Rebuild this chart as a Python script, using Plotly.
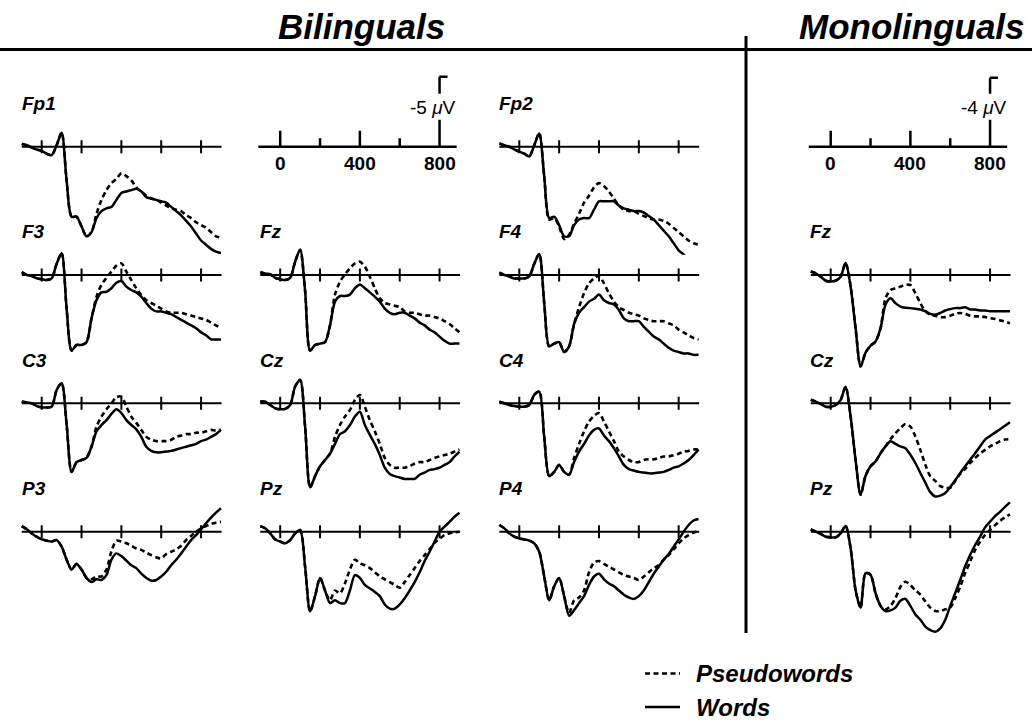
import plotly.graph_objects as go

W, H = 1032, 720
FONT = "Liberation Sans"
INK = "black"

# Sample times (ms) shared by all waveforms
times = list(range(-100, 901, 25))

# ---- Bilinguals: grand-average ERPs in microvolts (negative plotted up) ----
fp1_words = [-0.2, -0.1, 0.05, 0.2, 0.3, 0.5, 0.6, -0.1, -1.0, 2.4,
             5.0, 5.0, 5.7, 6.4, 6.1, 5.1, 4.6, 4.4, 4.3, 3.8,
             3.3, 3.2, 3.1, 3.0, 3.2, 3.6, 3.7, 3.8, 3.9, 4.0,
             4.3, 4.6, 4.9, 5.3, 5.7, 6.2, 6.7, 7.0, 7.3, 7.5, 7.6]
fp1_pseudo = [-0.2, -0.1, 0.05, 0.2, 0.3, 0.5, 0.6, -0.1, -1.0, 2.4,
              5.0, 5.0, 5.7, 6.4, 6.1, 4.8, 3.8, 3.1, 2.6, 2.3,
              1.9, 2.1, 2.4, 2.9, 3.2, 3.5, 3.7, 3.8, 4.0, 4.2,
              4.4, 4.5, 4.6, 4.9, 5.1, 5.4, 5.6, 5.8, 6.1, 6.4, 6.5]

fp2_words = [-0.24, -0.1, 0.0, 0.2, 0.35, 0.5, 0.7, -0.1, -0.95, 2.1,
             5.1, 5.0, 5.6, 6.4, 6.4, 5.6, 5.2, 5.1, 5.1, 4.5,
             3.9, 3.9, 3.9, 3.9, 4.2, 4.4, 4.5, 4.6, 4.6, 4.7,
             4.95, 5.2, 5.6, 6.0, 6.4, 6.9, 7.4, 7.7, 8.0, 8.1, 8.2]
fp2_pseudo = [-0.24, -0.1, 0.0, 0.2, 0.35, 0.5, 0.7, -0.1, -0.95, 2.1,
              5.2, 5.1, 5.7, 6.6, 6.3, 5.5, 4.8, 4.0, 3.5, 2.9,
              2.6, 2.8, 3.2, 3.7, 4.2, 4.5, 4.6, 4.6, 4.8, 4.95,
              5.1, 5.2, 5.2, 5.3, 5.5, 5.8, 6.1, 6.4, 6.7, 6.9, 7.0]

f3_words = [-0.2, 0.0, 0.07, 0.24, 0.3, 0.36, 0.24, -0.8, -1.55, 2.4,
            5.4, 5.0, 5.0, 4.8, 3.1, 1.8, 1.24, 1.2, 0.95, 0.55,
            0.43, 0.83, 1.07, 1.24, 1.55, 2.0, 2.4, 2.6, 2.6, 2.7,
            2.8, 3.0, 3.2, 3.4, 3.6, 3.8, 4.1, 4.3, 4.6, 4.6, 4.6]
f3_pseudo = [-0.2, 0.0, 0.07, 0.24, 0.3, 0.36, 0.24, -0.8, -1.55, 2.4,
             5.4, 5.0, 5.0, 4.8, 3.1, 1.55, 0.7, 0.2, -0.24, -0.67,
             -0.83, -0.24, 0.36, 0.95, 1.43, 1.8, 2.0, 2.2, 2.4, 2.6,
             2.7, 2.7, 2.7, 2.8, 2.9, 3.0, 3.1, 3.2, 3.4, 3.6, 3.8]

fz_words = [-0.2, -0.1, -0.05, 0.2, 0.3, 0.36, 0.2, -0.95, -1.8, 1.14,
            5.4, 5.0, 4.9, 4.8, 3.6, 1.9, 1.5, 1.5, 1.4, 0.95,
            0.67, 0.95, 1.24, 1.55, 1.9, 2.4, 2.7, 2.8, 2.7, 2.7,
            2.9, 3.1, 3.4, 3.6, 3.9, 4.1, 4.4, 4.7, 4.9, 4.9, 4.9]
fz_pseudo = [-0.2, -0.1, -0.05, 0.2, 0.3, 0.36, 0.2, -0.95, -1.8, 1.14,
             5.4, 5.0, 4.9, 4.8, 3.6, 1.4, 0.48, -0.05, -0.48, -0.83,
             -0.95, -0.6, 0.12, 0.95, 1.67, 2.0, 2.1, 2.2, 2.3, 2.6,
             2.7, 2.7, 2.8, 2.9, 2.9, 3.0, 3.1, 3.3, 3.5, 3.8, 4.1]

f4_words = [-0.17, 0.0, 0.1, 0.25, 0.25, 0.25, 0.1, -0.8, -1.5, 2.0,
            5.1, 4.9, 4.8, 5.5, 5.1, 3.5, 2.7, 2.3, 1.9, 1.7,
            1.4, 1.8, 2.0, 2.1, 2.5, 3.1, 3.3, 3.3, 3.3, 3.7,
            4.05, 4.4, 4.6, 4.9, 5.2, 5.4, 5.5, 5.6, 5.6, 5.7, 5.7]
f4_pseudo = [-0.17, 0.0, 0.1, 0.25, 0.25, 0.25, 0.1, -0.8, -1.5, 2.0,
             5.1, 4.9, 4.8, 5.5, 5.1, 3.5, 2.3, 1.3, 0.6, 0.24,
             0.05, 0.6, 1.3, 1.9, 2.3, 2.5, 2.7, 2.8, 2.9, 3.1,
             3.2, 3.3, 3.3, 3.3, 3.45, 3.6, 3.9, 4.1, 4.3, 4.5, 4.6]

c3_words = [-0.12, -0.05, 0.0, 0.2, 0.29, 0.3, 0.24, -0.95, -1.43, 1.5,
            4.9, 4.2, 4.05, 3.9, 3.1, 2.0, 1.55, 1.2, 0.76, 0.43,
            0.7, 1.2, 1.55, 1.86, 2.4, 3.1, 3.4, 3.5, 3.5, 3.45,
            3.4, 3.3, 3.2, 3.1, 3.0, 2.9, 2.7, 2.6, 2.4, 2.2, 1.9]
c3_pseudo = [-0.12, -0.05, 0.0, 0.2, 0.29, 0.3, 0.24, -0.95, -1.43, 1.5,
             4.9, 4.2, 4.05, 3.9, 3.1, 1.67, 0.95, 0.43, 0.0, -0.43,
             -0.48, 0.24, 0.95, 1.4, 1.9, 2.4, 2.6, 2.7, 2.7, 2.7,
             2.6, 2.4, 2.3, 2.2, 2.2, 2.1, 2.1, 2.0, 1.9, 1.95, 1.9]

cz_words = [-0.12, -0.12, 0.12, 0.36, 0.43, 0.4, 0.12, -1.2, -1.67, 1.67,
            6.0, 5.2, 4.5, 4.05, 3.6, 2.9, 2.2, 2.0, 1.55, 0.95,
            0.6, 1.55, 2.26, 2.9, 3.7, 4.6, 5.05, 5.2, 5.3, 5.4,
            5.4, 5.4, 5.1, 4.95, 4.76, 4.7, 4.6, 4.4, 4.2, 3.8, 3.45]
cz_pseudo = [-0.12, -0.12, 0.12, 0.36, 0.43, 0.4, 0.12, -1.2, -1.67, 1.67,
             6.0, 5.2, 4.5, 4.05, 3.6, 2.4, 1.55, 0.95, 0.48, -0.24,
             -0.6, 0.24, 1.2, 2.0, 2.9, 3.9, 4.4, 4.6, 4.6, 4.6,
             4.5, 4.3, 4.2, 4.2, 4.05, 3.9, 3.8, 3.7, 3.6, 3.45, 3.3]

c4_words = [-0.12, 0.0, 0.12, 0.2, 0.24, 0.24, 0.12, -0.6, -0.83, 2.4,
            5.2, 4.9, 4.4, 4.9, 5.1, 4.2, 3.45, 2.9, 2.3, 1.9,
            1.8, 2.3, 2.7, 3.2, 3.8, 4.4, 4.7, 4.8, 4.9, 4.95,
            5.0, 5.0, 4.95, 4.9, 4.76, 4.6, 4.5, 4.3, 4.05, 3.7, 3.3]
c4_pseudo = [-0.12, 0.0, 0.12, 0.2, 0.24, 0.24, 0.12, -0.6, -0.83, 2.4,
             5.2, 4.9, 4.4, 4.9, 5.1, 3.9, 2.9, 2.0, 1.3, 0.9,
             0.7, 1.3, 2.0, 2.7, 3.45, 3.8, 4.05, 4.2, 4.2, 4.05,
             4.0, 4.0, 3.9, 3.8, 3.8, 3.7, 3.6, 3.45, 3.4, 3.3, 3.3]

p3_words = [-0.4, -0.17, 0.12, 0.36, 0.55, 0.64, 0.7, 0.6, 1.07, 2.0,
            2.7, 2.3, 2.7, 3.3, 3.6, 3.4, 3.45, 3.1, 2.0, 1.55,
            1.74, 2.07, 2.4, 2.6, 3.0, 3.3, 3.5, 3.45, 3.2, 2.86,
            2.4, 2.0, 1.55, 1.07, 0.6, 0.24, -0.17, -0.6, -1.0, -1.36, -1.67]
p3_pseudo = [-0.4, -0.17, 0.12, 0.36, 0.55, 0.64, 0.7, 0.6, 1.07, 2.0,
             2.7, 2.3, 2.7, 3.3, 3.4, 3.2, 3.2, 2.7, 1.4, 0.64,
             0.7, 0.83, 1.0, 1.2, 1.3, 1.5, 1.67, 1.83, 1.9, 1.6,
             1.43, 1.26, 1.0, 0.6, 0.3, 0.0, -0.24, -0.4, -0.55, -0.64, -0.7]

pz_words = [-0.4, -0.24, 0.12, 0.55, 0.7, 0.83, 0.6, 0.12, -0.12, 2.5,
            5.7, 4.6, 3.3, 4.2, 5.1, 4.9, 5.1, 5.1, 4.2, 3.1,
            3.3, 3.8, 4.05, 4.3, 4.6, 5.2, 5.5, 5.5, 5.2, 4.76,
            4.2, 3.6, 2.9, 2.1, 1.43, 0.7, 0.0, -0.36, -0.7, -1.07, -1.36]
pz_pseudo = [-0.4, -0.24, 0.12, 0.55, 0.7, 0.83, 0.6, 0.12, -0.12, 2.5,
             5.7, 4.6, 3.3, 4.2, 4.9, 4.2, 4.4, 3.7, 2.7, 2.0,
             2.26, 2.4, 2.6, 2.9, 3.2, 3.4, 3.6, 3.8, 4.0, 3.6,
             3.1, 2.6, 2.1, 1.67, 1.26, 0.8, 0.5, 0.24, 0.12, 0.05, 0.0]

p4_words = [-0.48, -0.24, 0.12, 0.36, 0.48, 0.55, 0.64, 0.83, 1.43, 3.2,
            4.9, 3.9, 3.3, 4.6, 6.0, 5.6, 5.1, 4.6, 3.8, 3.2,
            3.0, 3.4, 3.7, 3.9, 4.2, 4.5, 4.7, 4.8, 4.6, 4.2,
            3.6, 3.0, 2.5, 2.0, 1.6, 1.07, 0.55, 0.0, -0.48, -0.8, -0.9]
p4_pseudo = [-0.48, -0.24, 0.12, 0.36, 0.48, 0.55, 0.64, 0.83, 1.43, 3.2,
             4.9, 3.9, 3.3, 4.6, 5.8, 4.9, 4.7, 4.2, 2.9, 2.2,
             2.1, 2.3, 2.5, 2.7, 2.9, 3.1, 3.2, 3.3, 3.45, 3.2,
             2.9, 2.6, 2.4, 2.0, 1.67, 1.26, 0.83, 0.48, 0.24, 0.07, -0.07]

# ---- Monolinguals ----
mfz_words = [-0.2, -0.1, 0.1, 0.33, 0.38, 0.33, 0.1, -0.7, 0.67, 3.1,
             5.3, 4.5, 4.1, 3.85, 3.1, 1.73, 1.35, 1.63, 1.83, 1.9,
             1.92, 1.96, 2.0, 2.1, 2.25, 2.3, 2.2, 2.06, 1.98, 1.92,
             1.92, 1.87, 2.0, 2.0, 2.06, 2.06, 2.1, 2.1, 2.1, 2.1, 2.1]
mfz_pseudo = [-0.2, -0.1, 0.1, 0.33, 0.38, 0.33, 0.1, -0.7, 0.67, 3.1,
              5.3, 4.5, 4.1, 3.85, 3.1, 1.35, 0.87, 0.77, 0.67, 0.58,
              0.58, 1.06, 1.63, 2.1, 2.3, 2.36, 2.44, 2.44, 2.36, 2.25,
              2.2, 2.25, 2.36, 2.4, 2.4, 2.44, 2.5, 2.55, 2.63, 2.7, 2.8]

mcz_words = [-0.2, -0.1, 0.04, 0.2, 0.2, 0.1, -0.2, -0.96, 0.77, 3.3,
             5.3, 4.2, 3.65, 3.37, 2.9, 2.5, 2.2, 2.35, 2.5, 2.6,
             2.98, 3.46, 4.04, 4.6, 5.15, 5.4, 5.35, 5.2, 4.85, 4.46,
             4.04, 3.65, 3.27, 2.9, 2.5, 2.1, 1.9, 1.7, 1.5, 1.3, 1.1]
mcz_pseudo = [-0.2, -0.1, 0.04, 0.2, 0.2, 0.1, -0.2, -0.96, 0.77, 3.3,
              5.3, 4.2, 3.65, 3.37, 2.9, 2.5, 2.08, 1.73, 1.44, 1.2,
              1.35, 1.92, 2.7, 3.56, 4.23, 4.5, 4.8, 4.9, 4.9, 4.5,
              4.1, 3.8, 3.46, 3.17, 2.9, 2.7, 2.5, 2.35, 2.2, 2.1, 2.08]

mpz_words = [-0.13, 0.0, 0.13, 0.29, 0.33, 0.33, 0.1, -0.33, 0.96, 3.4,
             4.4, 2.4, 2.5, 3.56, 4.3, 4.6, 4.56, 4.4, 4.0, 3.9,
             4.3, 4.8, 5.1, 5.5, 5.7, 5.8, 5.6, 5.1, 4.3, 3.56,
             2.8, 2.0, 1.35, 0.77, 0.29, -0.25, -0.58, -0.9, -1.15, -1.44, -1.7]
mpz_pseudo = [-0.13, 0.0, 0.13, 0.29, 0.33, 0.33, 0.1, -0.33, 0.96, 3.4,
              4.4, 2.4, 2.5, 3.56, 4.3, 4.5, 4.3, 3.85, 3.2, 2.9,
              3.1, 3.4, 3.65, 4.04, 4.4, 4.6, 4.6, 4.5, 4.4, 3.85,
              3.2, 2.4, 1.73, 1.06, 0.58, 0.19, -0.1, -0.38, -0.63, -0.83, -1.0]

# Tick times on every zero line, and the labelled ones on the calibration axis
axis_ticks = [0, 200, 400, 600, 800]
scale_labels = [0, 400, 800]

# ---- page geometry (pixels) ----
PX_PER_MS = 0.1992
BI_PX_PER_UV = 14.0
MONO_PX_PER_UV = 17.25
COL_ZERO = {"b1": 41.7, "b2": 280.2, "b3": 519.3, "m": 830.7}
ROW_BASE = [146.7, 275.0, 403.3, 531.7]
LABEL_X = {"b1": 20, "b2": 258, "b3": 497, "m": 808}

panels = [
    ("Fp1", "b1", 0, BI_PX_PER_UV, fp1_words, fp1_pseudo),
    ("Fp2", "b3", 0, BI_PX_PER_UV, fp2_words, fp2_pseudo),
    ("F3", "b1", 1, BI_PX_PER_UV, f3_words, f3_pseudo),
    ("Fz", "b2", 1, BI_PX_PER_UV, fz_words, fz_pseudo),
    ("F4", "b3", 1, BI_PX_PER_UV, f4_words, f4_pseudo),
    ("C3", "b1", 2, BI_PX_PER_UV, c3_words, c3_pseudo),
    ("Cz", "b2", 2, BI_PX_PER_UV, cz_words, cz_pseudo),
    ("C4", "b3", 2, BI_PX_PER_UV, c4_words, c4_pseudo),
    ("P3", "b1", 3, BI_PX_PER_UV, p3_words, p3_pseudo),
    ("Pz", "b2", 3, BI_PX_PER_UV, pz_words, pz_pseudo),
    ("P4", "b3", 3, BI_PX_PER_UV, p4_words, p4_pseudo),
    ("Fz", "m", 1, MONO_PX_PER_UV, mfz_words, mfz_pseudo),
    ("Cz", "m", 2, MONO_PX_PER_UV, mcz_words, mcz_pseudo),
    ("Pz", "m", 3, MONO_PX_PER_UV, mpz_words, mpz_pseudo),
]
# calibration panels: column, px per µV, bar size in µV
scale_panels = [("b2", BI_PX_PER_UV, 5), ("m", MONO_PX_PER_UV, 4)]

fig = go.Figure()
layout = {}
shapes = []
annotations = []


def px_x(p):
    return p / W


def px_y(p):
    return 1 - p / H


def add_axes(k, zero_px, base_px, s, t_lo=-115, t_hi=915, above=48, below=108):
    sfx = "" if k == 1 else str(k)
    layout["xaxis" + sfx] = dict(
        domain=[px_x(zero_px + t_lo * PX_PER_MS), px_x(zero_px + t_hi * PX_PER_MS)],
        range=[t_lo, t_hi], visible=False, fixedrange=True, anchor="y" + sfx)
    layout["yaxis" + sfx] = dict(
        domain=[px_y(base_px + below), px_y(base_px - above)],
        range=[below / s, -above / s], visible=False, fixedrange=True, anchor="x" + sfx)
    return "x" + sfx, "y" + sfx


def seg(xr, yr, x0, y0, x1, y1, width):
    shapes.append(dict(type="line", xref=xr, yref=yr, x0=x0, y0=y0, x1=x1, y1=y1,
                       line=dict(color=INK, width=width)))


k = 0
for name, col, row, s, words, pseudo in panels:
    k += 1
    xr, yr = add_axes(k, COL_ZERO[col], ROW_BASE[row], s)
    fig.add_trace(go.Scatter(x=times, y=pseudo, xaxis=xr, yaxis=yr, mode="lines",
                             line=dict(color=INK, width=2.6, dash="5px,3.5px",
                                       shape="spline", smoothing=0.8),
                             showlegend=False, hoverinfo="skip"))
    fig.add_trace(go.Scatter(x=times, y=words, xaxis=xr, yaxis=yr, mode="lines",
                             line=dict(color=INK, width=2.5, shape="spline", smoothing=0.8),
                             showlegend=False, hoverinfo="skip"))
    # zero line with crossing ticks
    seg(xr, yr, -100, 0, 903, 0, 2)
    for t in axis_ticks:
        seg(xr, yr, t, -6.5 / s, t, 6.5 / s, 2)
    annotations.append(dict(
        text=name, xref="paper", yref="paper", x=px_x(LABEL_X[col]),
        y=px_y(ROW_BASE[row] - 43), xanchor="left", yanchor="middle", showarrow=False,
        font=dict(family=FONT, size=19, color=INK, weight="bold", style="italic")))

for col, s, bar in scale_panels:
    k += 1
    xr, yr = add_axes(k, COL_ZERO[col], ROW_BASE[0], s, above=85, below=40)
    seg(xr, yr, -110, 0, 886, 0, 2.5)
    for t in axis_ticks:
        length = 16 if t in scale_labels else 8.5
        if t != 800:
            seg(xr, yr, t, 0, t, -length / s, 2.5)
    # calibration bar interrupted by its label
    seg(xr, yr, 800, 0, 800, -27 / s, 2.5)
    seg(xr, yr, 800, -53 / s, 800, -bar, 2.5)
    seg(xr, yr, 799, -bar, 840, -bar, 2.5)
    annotations.append(dict(
        text=f"-{bar} <i>μ</i>V", xref=xr, yref=yr, x=768, y=-39 / s,
        xanchor="center", yanchor="middle", showarrow=False,
        font=dict(family=FONT, size=19, color=INK)))
    for t in scale_labels:
        annotations.append(dict(
            text=str(t), xref=xr, yref=yr, x=t, y=17 / s, xanchor="center",
            yanchor="middle", showarrow=False,
            font=dict(family=FONT, size=19, color=INK, weight="bold")))

# group headings and separators
for text, cx in [("Bilinguals", 361), ("Monolinguals", 912)]:
    annotations.append(dict(
        text=text, xref="paper", yref="paper", x=px_x(cx), y=px_y(27),
        xanchor="center", yanchor="middle", showarrow=False,
        font=dict(family=FONT, size=35, color=INK, weight="bold", style="italic")))
shapes.append(dict(type="line", xref="paper", yref="paper", x0=0, x1=1,
                   y0=px_y(49.5), y1=px_y(49.5), line=dict(color=INK, width=3)))
shapes.append(dict(type="line", xref="paper", yref="paper", x0=px_x(746), x1=px_x(746),
                   y0=px_y(36), y1=px_y(633), line=dict(color=INK, width=3)))

# key
for label, ypx, dash in [("Pseudowords", 673.5, "5px,3.5px"), ("Words", 707, "solid")]:
    shapes.append(dict(type="line", xref="paper", yref="paper", x0=px_x(645), x1=px_x(680),
                       y0=px_y(ypx), y1=px_y(ypx), line=dict(color=INK, width=2.5, dash=dash)))
    annotations.append(dict(
        text=label, xref="paper", yref="paper", x=px_x(694), y=px_y(ypx),
        xanchor="left", yanchor="middle", showarrow=False,
        font=dict(family=FONT, size=24, color=INK, weight="bold", style="italic")))

fig.update_layout(
    width=W, height=H, margin=dict(l=0, r=0, t=0, b=0),
    paper_bgcolor="white", plot_bgcolor="rgba(0,0,0,0)",
    showlegend=False, shapes=shapes, annotations=annotations, **layout)

fig.write_html("out.html", config={"displayModeBar": False})
